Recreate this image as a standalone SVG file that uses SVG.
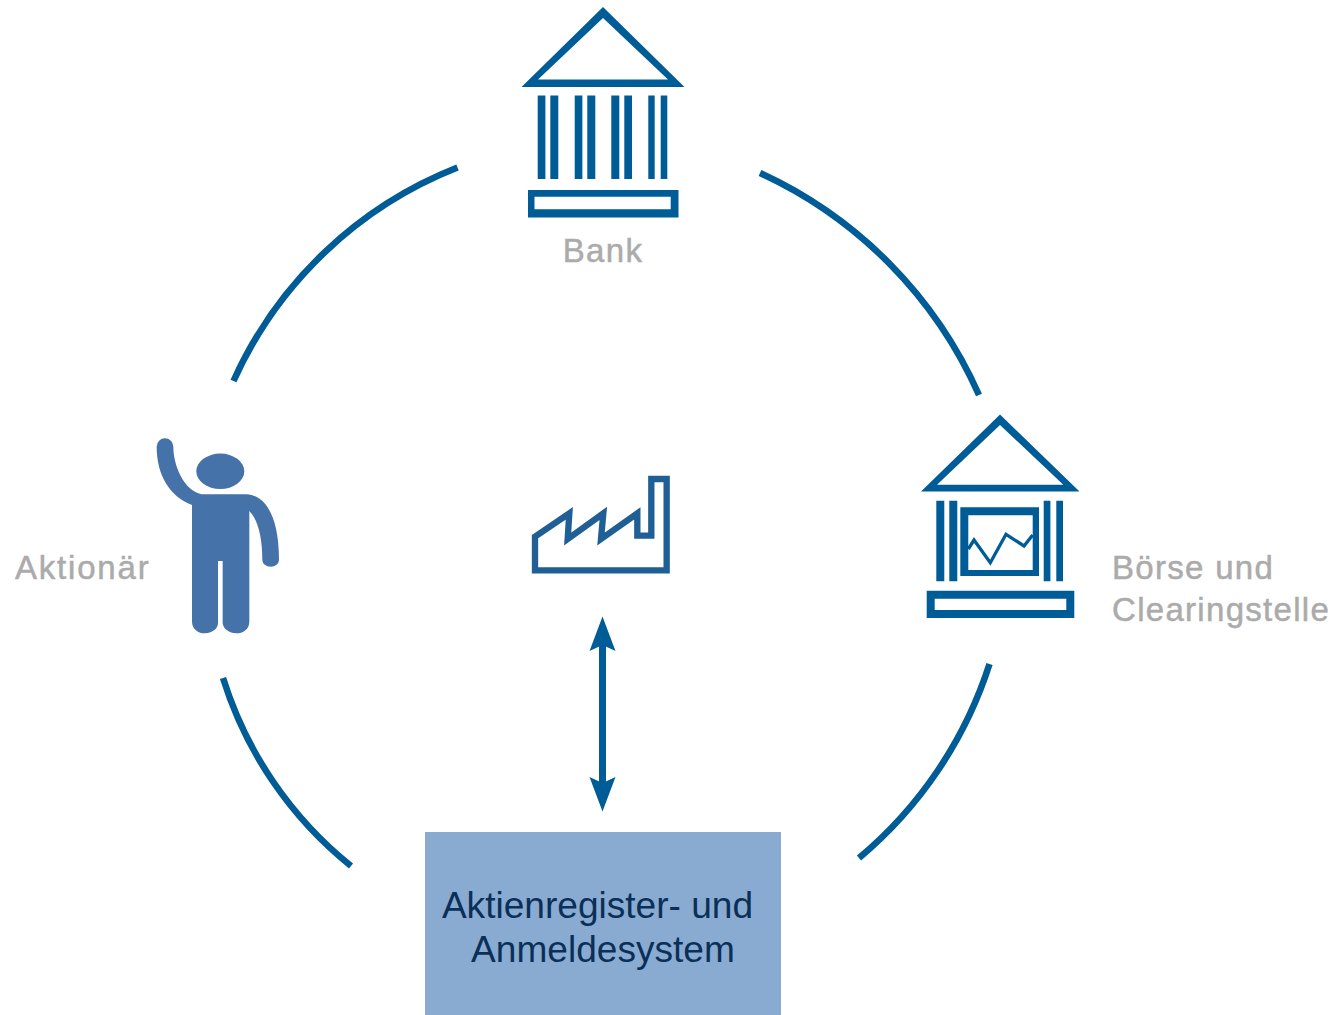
<svg xmlns="http://www.w3.org/2000/svg" width="1335" height="1015" viewBox="0 0 1335 1015">
<style>
.icon{fill:#005c96;fill-rule:evenodd}
.arc{fill:none;stroke:#005c96;stroke-width:6.500}
.lbl{font-family:"Liberation Sans",Arial,sans-serif;font-size:33px;fill:#ababab;stroke:#ababab;stroke-width:0.500px;letter-spacing:1.300px}
.box{font-family:"Liberation Sans",Arial,sans-serif;font-size:37.100px;fill:#0a3058;text-anchor:middle}
</style>
<rect width="1335" height="1015" fill="#ffffff"/>
<g id="connectors">
<path class="arc" d="M457.500 167.500A410 410 0 0 0 233.500 381"/>
<path class="arc" d="M760 173A440 440 0 0 1 979 395"/>
<path class="arc" d="M989.500 664A420 420 0 0 1 859 858"/>
<path class="arc" d="M223 678A390 390 0 0 0 351 866"/>
<g id="double-arrow" fill="#005c96">
<rect x="599" y="640" width="7" height="146"/>
<path d="M602.500 616.500L615.500 651L602.500 645L589.500 651Z"/>
<path d="M602.500 811.500L615.500 777L602.500 783L589.500 777Z"/>
</g>
</g>
<g id="bank">
<path class="icon" d="M603 7L684.500 87H521.500ZM603 18L538 79.500H668Z"/>
<path class="icon" d="M537.700 95.500h7.700v83.500h-7.700zM550.300 95.500h8v83.500h-8zM574.700 95.500h7.700v83.500h-7.700zM587.300 95.500h8v83.500h-8zM611.300 95.500h8v83.500h-8zM624.300 95.500h7.700v83.500h-7.700zM648.300 95.500h6.400v83.500h-6.400zM660.700 95.500h6.600v83.500h-6.600z"/>
<path class="icon" d="M528 190H678.500V217.500H528ZM534.500 196.700V209.300H670.700V196.700Z"/>
<text class="lbl" x="603" y="262" text-anchor="middle">Bank</text>
</g>
<g id="boerse">
<path class="icon" d="M1000 414.500L1079.500 491.500H921ZM1000 425L937 484.700H1063.300Z"/>
<path class="icon" d="M936.300 500.700h8v80.600h-8zM949.300 500.700h8v80.600h-8zM1043.700 500.700h6.700v80.600h-6.700zM1056.300 500.700h6.700v80.600h-6.700z"/>
<path class="icon" d="M960.300 507.300H1039V576H960.300ZM968.300 515.300V570H1032.700V515.300Z"/>
<path d="M968.300 549L974 540L990.300 562.700L1006 534.300L1024 546L1032.700 535" fill="none" stroke="#005c96" stroke-width="3.300"/>
<path class="icon" d="M926.700 590.700H1074.300V618H926.700ZM934.700 598.700V610H1066.300V598.700Z"/>
<text class="lbl" x="1112" y="579">Börse und</text>
<text class="lbl" x="1112" y="621">Clearingstelle</text>
</g>
<g id="aktionaer">
<ellipse cx="220.300" cy="471.300" rx="24" ry="17.700" fill="#4472a9"/>
<path transform="translate(140 425) scale(0.3333)" fill="#4472a9" d="M50 65A25 25 0 0 1 100 65C100 120 130 195 185 208L320 208C385 212 417 290 417 405A25 20 0 0 1 367 405C367 340 355 285 328 258L328 590C328 612 310 625 288 625C268 625 250 612 248 595L248 408L234 408L234 595C234 612 215 625 195 625C175 625 156 612 156 590L156 240C90 215 50 150 50 65Z"/>
<text class="lbl" x="15" y="579" style="letter-spacing:1.800px">Aktionär</text>
</g>
<g id="fabrik">
<path transform="translate(520 465) scale(0.3333)" fill="none" stroke="#1f5f96" stroke-width="19" d="M45 316V215L148 145L143 222L250 145L243 222L352 145V212H394V42H440V316Z"/>
</g>
<g id="aktienregister">
<rect x="425" y="832" width="356" height="183" fill="#8aabd1"/>
<text class="box" x="597.500" y="918">Aktienregister- und</text>
<text class="box" x="603" y="962">Anmeldesystem</text>
</g>
</svg>
